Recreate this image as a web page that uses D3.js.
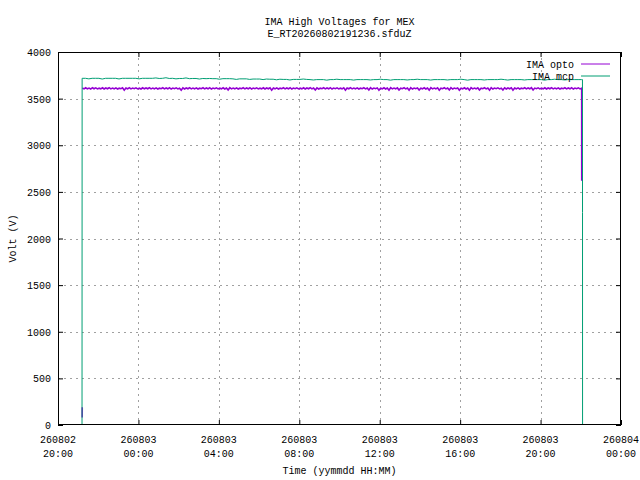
<!DOCTYPE html>
<html>
<head>
<meta charset="utf-8">
<script src="https://cdn.jsdelivr.net/npm/d3@7"></script>
<style>
  body { margin: 0; background: #fff; }
  svg text { font-family: "Liberation Mono", "DejaVu Sans Mono", monospace; font-size: 10px; fill: #000; }
</style>
</head>
<body>
<svg id="chart" width="640" height="480"></svg>
<script>
var titleLines = ["IMA High Voltages for MEX", "E_RT20260802191236.sfduZ"];
var xLabel = "Time (yymmdd HH:MM)";
var yLabel = "Volt (V)";
var seriesNames = ["IMA opto", "IMA mcp"];
var seriesColors = ["#9400d3", "#009e73"];
var seriesWidths = [1.6, 1];

var xDomain = ["2026-08-02 20:00:00", "2026-08-04 00:00:00"];
var yTicks = [0, 500, 1000, 1500, 2000, 2500, 3000, 3500, 4000];

// opto: one sample every 5 minutes from optoStart
var optoStart = "2026-08-02 21:12:40";
var optoStep = 5;
var optoValues = [
  3614,3604,3616,3605,3613,3603,3617,3606,3615,3604,
  3612,3605,3616,3603,3614,3606,3617,3604,3613,3605,
  3615,3603,3612,3606,3616,3591,3614,3605,3617,3604,
  3613,3606,3615,3604,3612,3603,3616,3605,3614,3606,
  3617,3604,3613,3605,3615,3603,3612,3606,3616,3604,
  3614,3605,3617,3603,3613,3606,3615,3604,3612,3590,
  3616,3603,3614,3606,3617,3604,3613,3605,3615,3603,
  3612,3606,3616,3604,3614,3605,3617,3603,3613,3606,
  3615,3604,3612,3605,3616,3603,3614,3592,3617,3604,
  3613,3605,3615,3603,3612,3606,3616,3604,3614,3605,
  3617,3603,3613,3606,3615,3604,3612,3605,3616,3603,
  3614,3606,3617,3591,3613,3605,3615,3603,3612,3606,
  3616,3604,3614,3605,3617,3603,3613,3606,3615,3604,
  3612,3605,3616,3603,3614,3606,3617,3604,3613,3593,
  3615,3603,3612,3606,3616,3604,3614,3605,3617,3603,
  3613,3606,3615,3604,3612,3605,3616,3590,3614,3606,
  3617,3604,3613,3605,3615,3603,3612,3606,3616,3604,
  3614,3592,3617,3603,3613,3606,3615,3590,3612,3605,
  3616,3603,3614,3591,3617,3604,3613,3605,3615,3592,
  3612,3606,3616,3604,3614,3590,3617,3603,3613,3606,
  3615,3593,3612,3605,3616,3603,3614,3591,3617,3604,
  3613,3605,3615,3590,3612,3606,3616,3604,3614,3592,
  3617,3603,3613,3606,3615,3591,3612,3605,3616,3603,
  3614,3590,3617,3604,3613,3605,3615,3592,3612,3606,
  3616,3604,3614,3591,3617,3603,3613,3606,3615,3604,
  3612,3593,3616,3603,3614,3606,3617,3590,3613,3605,
  3615,3603,3612,3606,3616,3604,3614,3605,3617,3592,
  3613,3606,3615,3604,3612,3605,3616,3603,3614,3606,
  3617,3604,3613,3605,3615,3603,3612,3606,3616,3604,
  3614,3605,3617,3603,3613,3606,3615,3604,3612
];

// mcp: one sample every 10 minutes from mcpStart
var mcpStart = "2026-08-02 21:12:00";
var mcpStep = 10;
var mcpValues = [
  3718,3718,3712,3718,3718,3718,3710,3718,3718,3718,
  3718,3711,3718,3718,3718,3718,3718,3712,3718,3718,
  3718,3718,3722,3716,3718,3724,3716,3718,3712,3716,
  3716,3722,3714,3716,3716,3710,3716,3714,3716,3714,
  3714,3708,3714,3714,3714,3712,3706,3712,3712,3712,
  3706,3710,3710,3710,3704,3710,3708,3708,3702,3708,
  3706,3706,3700,3706,3706,3706,3710,3706,3704,3700,
  3704,3704,3704,3698,3704,3704,3708,3704,3704,3704,
  3704,3699,3704,3704,3704,3704,3700,3704,3704,3708,
  3704,3704,3698,3704,3704,3704,3704,3700,3704,3704,
  3708,3704,3704,3704,3699,3704,3704,3704,3704,3700,
  3704,3704,3704,3708,3704,3698,3704,3704,3704,3704,
  3700,3704,3704,3704,3704,3708,3704,3699,3704,3704,
  3704,3704,3700,3704,3704,3704,3704,3704,3698,3704,
  3704,3708,3704,3704,3700,3704,3704,3704,3704,3704
];

// switch-on and switch-off samples (null = missing sample)
var optoHead = [["2026-08-02 21:12:10", 80], ["2026-08-02 21:12:20", 190], ["2026-08-02 21:12:30", null]];
var optoTail = [["2026-08-03 22:02:50", 2620]];
var mcpHead = [["2026-08-02 21:11:40", 0]];
var mcpTail = [["2026-08-03 22:05:00", 3704], ["2026-08-03 22:05:10", 2280], ["2026-08-03 22:05:20", 0]];

var parse = d3.timeParse("%Y-%m-%d %H:%M:%S");

function build(head, start, step, values, tail) {
  var t0 = parse(start);
  var pts = head.map(function(d) { return {t: parse(d[0]), v: d[1]}; });
  values.forEach(function(v, i) {
    pts.push({t: d3.timeMinute.offset(t0, i * step), v: v});
  });
  tail.forEach(function(d) { pts.push({t: parse(d[0]), v: d[1]}); });
  return pts;
}

var series = [
  build(optoHead, optoStart, optoStep, optoValues, optoTail),
  build(mcpHead, mcpStart, mcpStep, mcpValues, mcpTail)
];

var margin = {left: 58, right: 19, top: 52, bottom: 55};
var W = 640, H = 480;
var svg = d3.select("#chart");
var g = svg.append("g");

var x = d3.scaleTime()
  .domain(xDomain.map(parse))
  .range([margin.left, W - margin.right]);
var y = d3.scaleLinear()
  .domain([0, 4000])
  .range([H - margin.bottom, margin.top]);

var xTicks = d3.timeHour.every(4).range(x.domain()[0], d3.timeMinute.offset(x.domain()[1], 1));

// grid
g.selectAll(".hgrid").data(yTicks.slice(1, -1)).enter().append("line")
  .attr("x1", margin.left).attr("x2", W - margin.right)
  .attr("y1", function(d) { return Math.round(y(d)) + 0.5; })
  .attr("y2", function(d) { return Math.round(y(d)) + 0.5; })
  .attr("stroke", "#a0a0a0").attr("stroke-dasharray", "2,4");
g.selectAll(".vgrid").data(xTicks.slice(1, -1)).enter().append("line")
  .attr("y1", margin.top).attr("y2", H - margin.bottom)
  .attr("x1", function(d) { return Math.round(x(d)) + 0.5; })
  .attr("x2", function(d) { return Math.round(x(d)) + 0.5; })
  .attr("stroke", "#a0a0a0").attr("stroke-dasharray", "2,4");

// axes (ticks inside, mirrored)
var fmtDay = d3.timeFormat("%y%m%d"), fmtHour = d3.timeFormat("%H:%M");
var axBottom = g.append("g").attr("transform", "translate(0," + (H - margin.bottom) + ")")
  .call(d3.axisBottom(x).tickValues(xTicks).tickSize(-5).tickFormat(""));
var axTop = g.append("g").attr("transform", "translate(0," + margin.top + ")")
  .call(d3.axisTop(x).tickValues(xTicks).tickSize(-5).tickFormat(""));
var axLeft = g.append("g").attr("transform", "translate(" + margin.left + ",0)")
  .call(d3.axisLeft(y).tickValues(yTicks).tickSize(-5).tickFormat(""));
var axRight = g.append("g").attr("transform", "translate(" + (W - margin.right) + ",0)")
  .call(d3.axisRight(y).tickValues(yTicks).tickSize(-5).tickFormat(""));
[axBottom, axTop, axLeft, axRight].forEach(function(a) {
  a.select(".domain").remove();
  a.selectAll("line").attr("stroke", "#000");
});

g.selectAll(".xlab").data(xTicks).enter().append("text")
  .attr("x", function(d) { return x(d); })
  .attr("y", H - margin.bottom + 18)
  .attr("text-anchor", "middle")
  .each(function(d) {
    var t = d3.select(this);
    t.append("tspan").attr("x", x(d)).text(fmtDay(d));
    t.append("tspan").attr("x", x(d)).attr("dy", 14).text(fmtHour(d));
  });

g.selectAll(".ylab").data(yTicks).enter().append("text")
  .attr("x", margin.left - 7)
  .attr("y", function(d) { return y(d) + 4; })
  .attr("text-anchor", "end")
  .text(function(d) { return d; });

// lines
var line = d3.line()
  .defined(function(d) { return d.v !== null; })
  .x(function(d) { return x(d.t); })
  .y(function(d) { return y(d.v); });
g.selectAll(".series").data(series).enter().append("path")
  .attr("d", line)
  .attr("fill", "none")
  .attr("stroke", function(d, i) { return seriesColors[i]; })
  .attr("stroke-width", function(d, i) { return seriesWidths[i]; });

// border
g.append("rect")
  .attr("x", margin.left + 0.5).attr("y", margin.top + 0.5)
  .attr("width", W - margin.left - margin.right - 1)
  .attr("height", H - margin.top - margin.bottom - 1)
  .attr("fill", "none").attr("stroke", "#000");

// legend
var leg = g.selectAll(".legend").data(seriesNames).enter().append("g")
  .attr("transform", function(d, i) { return "translate(0," + (64 + i * 12) + ")"; });
leg.append("text").attr("x", 574).attr("y", 4).attr("text-anchor", "end").text(function(d) { return d; });
leg.append("line").attr("x1", 581).attr("x2", 610).attr("y1", 0).attr("y2", 0)
  .attr("stroke", function(d, i) { return seriesColors[i]; });

// titles
var cx = (margin.left + W - margin.right) / 2;
g.selectAll(".title").data(titleLines).enter().append("text")
  .attr("x", cx).attr("y", function(d, i) { return 25 + i * 12; })
  .attr("text-anchor", "middle").text(function(d) { return d; });
g.append("text").attr("x", cx).attr("y", 474).attr("text-anchor", "middle").text(xLabel);
g.append("text")
  .attr("transform", "translate(16," + ((margin.top + H - margin.bottom) / 2) + ") rotate(-90)")
  .attr("text-anchor", "middle").text(yLabel);
</script>
</body>
</html>
